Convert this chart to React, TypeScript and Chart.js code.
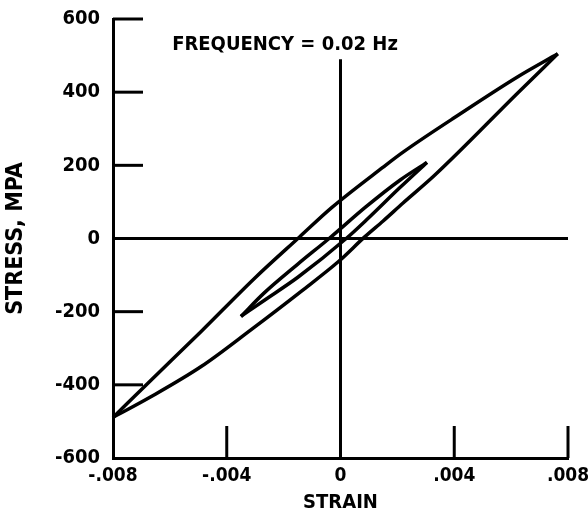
import React, { useEffect, useRef } from "react";
import { Chart, registerables } from "chart.js";

Chart.register(...registerables);

const xTickValues = [-0.008, -0.004, 0, 0.004, 0.008];
const xTickLabels = ["-.008", "-.004", "0", ".004", ".008"];
const yTickValues = [-600, -400, -200, 0, 200, 400, 600];
const yTickLabels = ["-600", "-400", "-200", "0", "200", "400", "600"];

const titleText = "FREQUENCY = 0.02 Hz";
const xAxisTitle = "STRAIN";
const yAxisTitle = "STRESS, MPA";

// Outer (large) hysteresis loop
const outerUpperStrain = [-0.008, -0.0067, -0.0049, -0.003, -0.00143, -0.0003, 0.0015, 0.0022, 0.0039, 0.00625, 0.00764];
const outerUpperStress = [-489, -390, -254, -107, 5, 85, 195, 236, 325, 443, 505];
const outerLowerStrain = [-0.008, -0.0067, -0.0049, -0.00314, -0.00136, -0.00007, 0.00086, 0.0015, 0.0022, 0.0033, 0.00625, 0.00764];
const outerLowerStress = [-489, -434, -350, -249, -143, -63, 5, 48, 97, 172, 399, 505];

// Inner (small) hysteresis loop
const innerUpperStrain = [-0.0035, -0.0027, -0.0015, -0.0004, 0.0009, 0.0021, 0.00304];
const innerUpperStress = [-213, -150, -70, 0, 87, 160, 208];
const innerLowerStrain = [-0.0035, -0.0027, -0.0015, 0.0002, 0.0009, 0.0021, 0.00304];
const innerLowerStress = [-213, -170, -106, 0, 50, 140, 208];

// Zero reference lines
const zeroStressStrain = [-0.008, 0.008];
const zeroStressValues = [0, 0];
const zeroStrainStrain = [0, 0];
const zeroStrainValues = [490, -600];

const FONT_FAMILY = "'DejaVu Sans Condensed', 'DejaVu Sans', sans-serif";

const toPoints = (xs: number[], ys: number[]) => xs.map((x, i) => ({ x, y: ys[i] }));

const overlayPlugin = {
  id: "overlay",
  afterDatasetsDraw(chart: any) {
    const { ctx, chartArea, scales } = chart;
    const x = scales.x;
    const y = scales.y;
    ctx.save();
    ctx.strokeStyle = "#000";
    ctx.lineWidth = 3;
    ctx.lineCap = "butt";
    yTickValues.forEach((v) => {
      if (v === -600) return;
      const py = y.getPixelForValue(v);
      ctx.beginPath();
      ctx.moveTo(chartArea.left, py);
      ctx.lineTo(chartArea.left + 30, py);
      ctx.stroke();
    });
    xTickValues.forEach((v, i) => {
      if (i === 0) return;
      const px = x.getPixelForValue(v);
      ctx.beginPath();
      ctx.moveTo(px, chartArea.bottom);
      ctx.lineTo(px, chartArea.bottom - 32);
      ctx.stroke();
    });
    ctx.fillStyle = "#000";
    ctx.font = `bold 20px ${FONT_FAMILY}`;
    ctx.textAlign = "left";
    ctx.textBaseline = "middle";
    ctx.fillText(titleText, x.getPixelForValue(-0.00592), y.getPixelForValue(530));
    ctx.restore();
  },
};

export default function App() {
  const canvasRef = useRef<HTMLCanvasElement | null>(null);

  useEffect(() => {
    if (!canvasRef.current) return;
    const font = { family: FONT_FAMILY, size: 20, weight: "bold" as const };
    const xTickFont = { family: FONT_FAMILY, size: 19, weight: "bold" as const };
    const yTitleFont = { family: FONT_FAMILY, size: 23, weight: "bold" as const };
    const lineStyle = {
      borderColor: "#000",
      borderWidth: 3.5,
      pointRadius: 0,
      fill: false,
      clip: false as any,
    };
    const chart = new Chart(canvasRef.current, {
      type: "line",
      data: {
        datasets: [
          { ...lineStyle, data: toPoints(outerUpperStrain, outerUpperStress), cubicInterpolationMode: "monotone" },
          { ...lineStyle, data: toPoints(outerLowerStrain, outerLowerStress), cubicInterpolationMode: "monotone" },
          { ...lineStyle, data: toPoints(innerUpperStrain, innerUpperStress), cubicInterpolationMode: "monotone" },
          { ...lineStyle, data: toPoints(innerLowerStrain, innerLowerStress), cubicInterpolationMode: "monotone" },
          { ...lineStyle, borderWidth: 3, data: toPoints(zeroStressStrain, zeroStressValues), tension: 0 },
          { ...lineStyle, borderWidth: 3, data: toPoints(zeroStrainStrain, zeroStrainValues), tension: 0 },
        ],
      },
      options: {
        animation: false,
        responsive: true,
        maintainAspectRatio: false,
        layout: { padding: { top: 19, right: 20, left: 0, bottom: 0 } },
        plugins: { legend: { display: false }, tooltip: { enabled: false } },
        scales: {
          x: {
            type: "linear",
            min: -0.008,
            max: 0.008,
            afterBuildTicks: (s: any) => {
              s.ticks = xTickValues.map((v) => ({ value: v }));
            },
            ticks: {
              callback: (_v: any, i: number) => xTickLabels[i],
              padding: 7,
              font: xTickFont,
              color: "#000",
              maxRotation: 0,
              autoSkip: false,
            },
            grid: { display: false, drawTicks: false },
            border: { display: true, color: "#000", width: 3 },
            title: { display: true, text: xAxisTitle, font, color: "#000", padding: { top: 0, bottom: 3 } },
            afterFit: (s: any) => {
              s.height = 60;
              s.paddingLeft = 0;
              s.paddingRight = 0;
            },
          },
          y: {
            type: "linear",
            min: -600,
            max: 600,
            afterBuildTicks: (s: any) => {
              s.ticks = yTickValues.map((v) => ({ value: v }));
            },
            ticks: {
              callback: (_v: any, i: number) => yTickLabels[i],
              padding: 13,
              font,
              color: "#000",
              autoSkip: false,
            },
            grid: { display: false, drawTicks: false },
            border: { display: true, color: "#000", width: 3 },
            title: { display: true, text: yAxisTitle, font: yTitleFont, color: "#000", padding: { top: 2, bottom: 0 } },
            afterFit: (s: any) => {
              s.width = 113;
              s.paddingTop = 0;
              s.paddingBottom = 0;
            },
          },
        },
      },
      plugins: [overlayPlugin],
    });
    return () => chart.destroy();
  }, []);

  return (
    <div style={{ position: "fixed", left: 0, top: 0, width: 588, height: 518, background: "#fff" }}>
      <canvas ref={canvasRef} />
    </div>
  );
}
